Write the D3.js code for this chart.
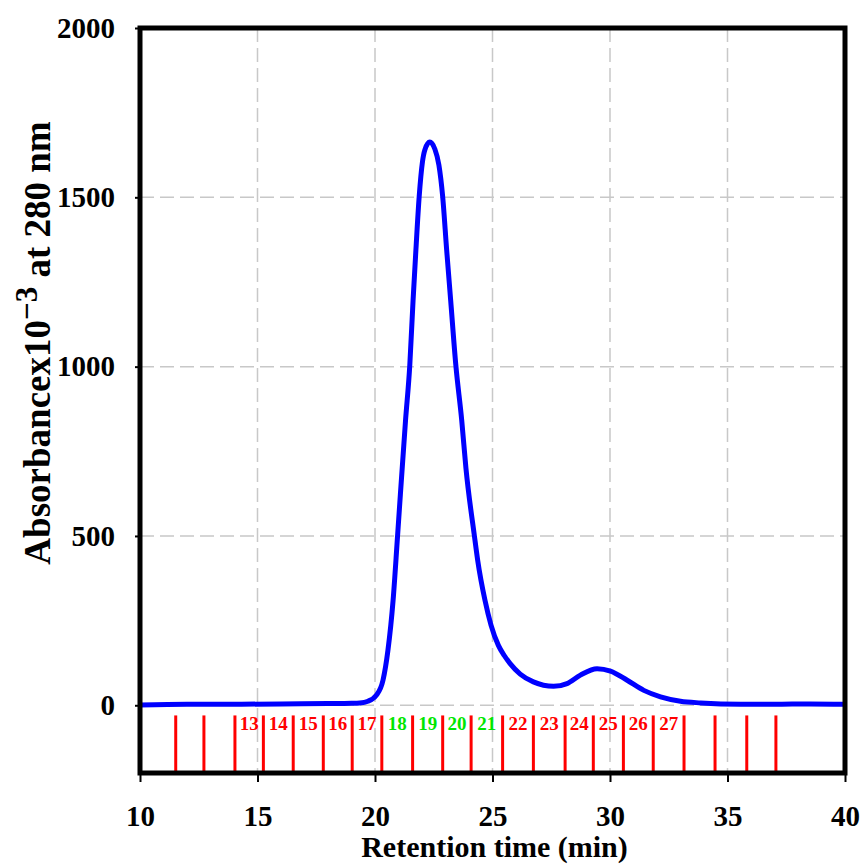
<!DOCTYPE html>
<html>
<head>
<meta charset="utf-8">
<script src="https://cdn.jsdelivr.net/npm/d3@7"></script>
<style>
  body { margin: 0; background: #fff; }
  svg { display: block; }
  text { font-family: "Liberation Serif", "Times New Roman", serif; font-weight: bold; }
</style>
</head>
<body>
<svg id="chart" width="862" height="866"></svg>
<script>
// chromatogram (time in min, absorbance x10^-3)
const times = [10, 12, 14, 16, 18, 19, 19.35, 19.7, 20.06, 20.34, 20.55, 20.77, 20.96, 21.3, 21.48,
  21.62, 21.74, 21.88, 22.02, 22.12, 22.33, 22.55, 22.72, 22.88, 23.05, 23.22, 23.44, 23.69, 23.87,
  24.23, 24.37, 24.68, 24.94, 25.25, 25.5, 25.75, 26.18, 26.74, 27.6, 28.17, 28.74, 29.45, 30.02, 30.73,
  31.44, 32.15, 33.0, 33.86, 35.57, 37, 38.5, 40];
const absorb = [1, 3, 3, 4, 5, 6, 7, 12, 30, 74, 162, 310, 500, 842, 1004,
  1196, 1344, 1502, 1605, 1640, 1663, 1642, 1595, 1502, 1344, 1196, 1004, 842, 700,
  500, 428, 310, 236, 177, 147, 123, 92, 69, 56, 64, 89, 108, 101, 74,
  44, 25, 12, 7, 3, 3, 4, 3];

// fraction collector marks (min)
const fractionTimes = [11.52, 12.72, 14.04, 15.25, 16.52, 17.80, 19.03, 20.29, 21.60, 22.88, 24.09,
  25.43, 26.74, 28.09, 29.29, 30.57, 31.84, 33.15, 34.47, 35.82, 37.06];
const fractionLabels = ["13", "14", "15", "16", "17", "18", "19", "20", "21", "22", "23", "24", "25", "26", "27"];
const greenFractions = ["18", "19", "20", "21"];

const xTicks = [10, 15, 20, 25, 30, 35, 40];
const yTicks = [0, 500, 1000, 1500, 2000];
const xGrid = [15, 20, 25, 30, 35];
const yGrid = [0, 500, 1000, 1500];

const svg = d3.select('#chart');

const x = d3.scaleLinear().domain([10, 40]).range([140, 845]);
const y = d3.scaleLinear().domain([-200, 2000]).range([773, 28]);

// dashed grid
svg.append('g').selectAll('line').data(xGrid).join('line')
  .attr('x1', d => x(d)).attr('x2', d => x(d))
  .attr('y1', y(2000)).attr('y2', y(-200))
  .attr('stroke', '#c8c8c8').attr('stroke-width', 1.5).attr('stroke-dasharray', '14,6');
svg.append('g').selectAll('line').data(yGrid).join('line')
  .attr('x1', x(10)).attr('x2', x(40))
  .attr('y1', d => y(d)).attr('y2', d => y(d))
  .attr('stroke', '#c8c8c8').attr('stroke-width', 1.5).attr('stroke-dasharray', '14,6');

// fraction marks
svg.append('g').selectAll('line').data(fractionTimes).join('line')
  .attr('x1', d => x(d)).attr('x2', d => x(d))
  .attr('y1', y(-30)).attr('y2', y(-200))
  .attr('stroke', '#ff0000').attr('stroke-width', 3);

// fraction numbers sit between marks 2+i and 3+i
svg.append('g').selectAll('text').data(fractionLabels).join('text')
  .attr('x', (d, i) => x((fractionTimes[i + 2] + fractionTimes[i + 3]) / 2))
  .attr('y', y(-74))
  .attr('text-anchor', 'middle')
  .attr('font-size', 19)
  .attr('fill', d => greenFractions.includes(d) ? '#00e600' : '#ff0000')
  .text(d => d);

// chromatogram line
const line = d3.line()
  .x((d, i) => x(times[i]))
  .y(d => y(d))
  .curve(d3.curveMonotoneX);

svg.append('path')
  .datum(absorb)
  .attr('fill', 'none')
  .attr('stroke', '#0000ff')
  .attr('stroke-width', 5)
  .attr('stroke-linejoin', 'round')
  .attr('d', line);

// axes
const xAxis = svg.append('g')
  .attr('transform', `translate(0,${y(-200)})`)
  .call(d3.axisBottom(x).tickValues(xTicks).tickSize(9).tickPadding(23).tickFormat(d3.format('d')));
const yAxis = svg.append('g')
  .attr('transform', `translate(${x(10)},0)`)
  .call(d3.axisLeft(y).tickValues(yTicks).tickSize(5).tickPadding(20).tickFormat(d3.format('d')));

[xAxis, yAxis].forEach(a => {
  a.select('.domain').remove();
  a.selectAll('line').attr('stroke', '#000').attr('stroke-width', 2);
  a.selectAll('text')
    .attr('fill', '#000')
    .attr('font-size', 29)
    .attr('font-family', '"Liberation Serif", "Times New Roman", serif')
    .attr('font-weight', 'bold');
});

// frame
svg.append('rect')
  .attr('x', x(10)).attr('y', y(2000))
  .attr('width', x(40) - x(10)).attr('height', y(-200) - y(2000))
  .attr('fill', 'none').attr('stroke', '#000').attr('stroke-width', 5);

// axis titles
svg.append('text')
  .attr('x', (x(10) + x(40)) / 2 + 2)
  .attr('y', 857)
  .attr('text-anchor', 'middle')
  .attr('font-size', 30)
  .text('Retention time (min)');

const yTitle = svg.append('text')
  .attr('transform', 'translate(50,343) rotate(-90)')
  .attr('text-anchor', 'middle')
  .attr('font-size', 37);
yTitle.append('tspan').text('Absorbancex10');
yTitle.append('tspan').attr('dy', -13).attr('font-size', 31).text('\u22123');
yTitle.append('tspan').attr('dy', 13).text(' at 280 nm');
</script>
</body>
</html>
